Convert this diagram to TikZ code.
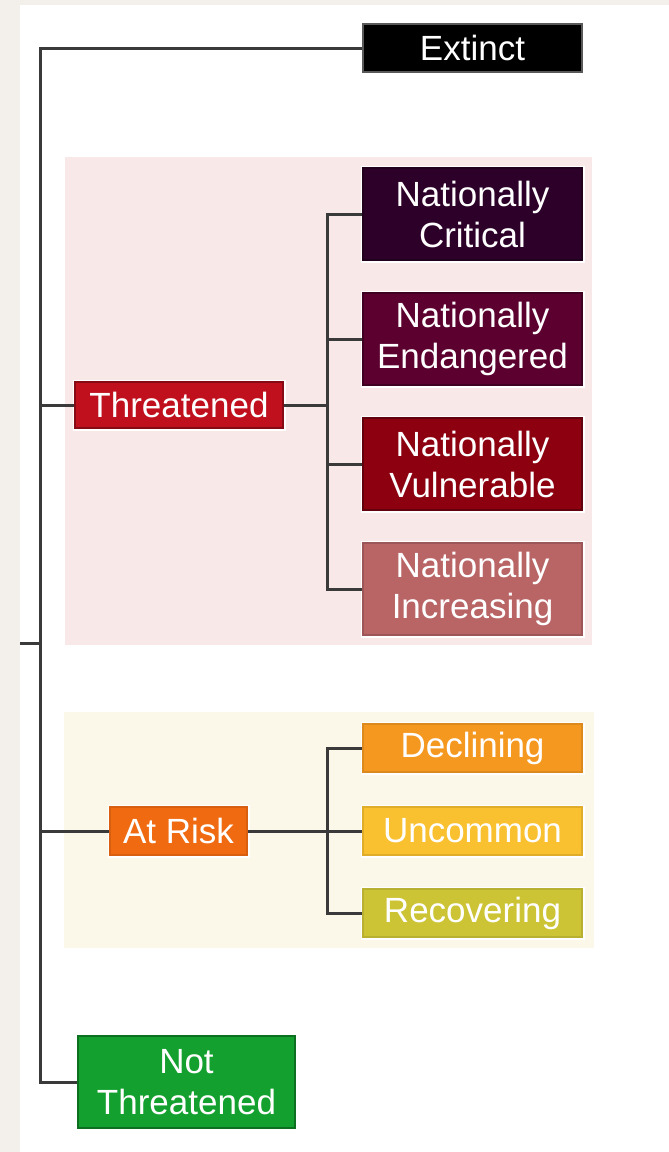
\documentclass[tikz,border=0pt]{standalone}
\usepackage{fontspec}
\setmainfont{Liberation Sans}
\usepackage{xcolor}
\usetikzlibrary{
	calc,
	backgrounds
}
\definecolor{sideGrey}{HTML}{F3F0EB}
\definecolor{threatBg}{HTML}{F9E8E8}
\definecolor{riskBg}{HTML}{FBF8EA}
\definecolor{extinctCol}{HTML}{000000}
\definecolor{criticalCol}{HTML}{2D0029}
\definecolor{endangeredCol}{HTML}{5C0030}
\definecolor{vulnerableCol}{HTML}{8C0010}
\definecolor{increasingCol}{HTML}{B96566}
\definecolor{threatenedCol}{HTML}{C0101E}
\definecolor{decliningCol}{HTML}{F59820}
\definecolor{uncommonCol}{HTML}{F9C030}
\definecolor{recoveringCol}{HTML}{CCC435}
\definecolor{atriskCol}{HTML}{F06A12}
\definecolor{notthreatCol}{HTML}{13A02F}
\definecolor{lineCol}{HTML}{3A3A3A}

\begin{document}
\begin{tikzpicture}[x=1pt, y=-1pt,
                status/.style={rectangle, inner sep=0pt, text=white, align=center,
                    font=\fontsize{35}{41}\selectfont, fill=#1, draw=#1!70!black,
                    line width=1.5pt, preaction={draw=white, line width=5pt}},
                wide/.style={minimum width=219pt},
                tall/.style={minimum height=92pt},
                flat/.style={minimum height=48pt},
                branch/.style={lineCol, line width=3pt}]
                \useasboundingbox (0,0) rectangle (669,1152);
                \fill[sideGrey] (0,0) rectangle (669,1152);
                \fill[white] (20,5) rectangle (669,1152);
                \fill[threatBg] (65,157) rectangle (592,645);
                \fill[riskBg] (64,712) rectangle (594,948);

                \node[status=extinctCol, wide, flat, draw=black!65] (extinct) at (472.5,48) {Extinct};

                \node[status=criticalCol, wide, tall] (critical) at (472.5,214) {Nationally\\Critical};
                \node[status=endangeredCol, wide, tall] (endangered) at (472.5,339) {Nationally\\Endangered};
                \node[status=vulnerableCol, wide, tall] (vulnerable) at (472.5,464) {Nationally\\Vulnerable};
                \node[status=increasingCol, wide, tall, draw=increasingCol!85!black] (increasing) at (472.5,589) {Nationally\\Increasing};
                \node[status=threatenedCol, minimum width=208pt, minimum height=46pt] (threatened) at (179,405) {Threatened};

                \node[status=decliningCol, wide, flat, draw=decliningCol!90!black] (declining) at (472.5,748) {Declining};
                \node[status=uncommonCol, wide, flat, draw=uncommonCol!90!black] (uncommon) at (472.5,831) {Uncommon};
                \node[status=recoveringCol, wide, flat, draw=recoveringCol!90!black] (recovering) at (472.5,913) {Recovering};
                \node[status=atriskCol, minimum width=137pt, flat, draw=atriskCol!90!black] (atrisk) at (178.5,831) {At Risk};

                \node[status=notthreatCol, minimum width=217pt, tall] (notthreat) at (186.5,1082) {Not\\Threatened};

                \coordinate (trunkTop) at (40,48);
                \coordinate (trunkBot) at (40,1082);
                \coordinate (rootStub) at (20,643);
                \coordinate (threatFork) at (327,405);
                \coordinate (riskFork) at (327,831);

                \draw[branch] (extinct.west) -- (trunkTop) -- (trunkBot) -- (notthreat.west);
                \draw[branch] (rootStub) -- (rootStub -| trunkTop);
                \draw[branch] (threatened.west -| trunkTop) -- (threatened.west);
                \draw[branch] (atrisk.west -| trunkTop) -- (atrisk.west);

                \draw[branch] (threatened.east) -- (threatFork);
                \draw[branch] (threatFork) |- (critical.west);
                \draw[branch] (threatFork) |- (endangered.west);
                \draw[branch] (threatFork) |- (vulnerable.west);
                \draw[branch] (threatFork) |- (increasing.west);

                \draw[branch] (atrisk.east) -- (riskFork);
                \draw[branch] (riskFork) |- (declining.west);
                \draw[branch] (riskFork) -- (uncommon.west);
                \draw[branch] (riskFork) |- (recovering.west);
            \end{tikzpicture}
\end{document}
